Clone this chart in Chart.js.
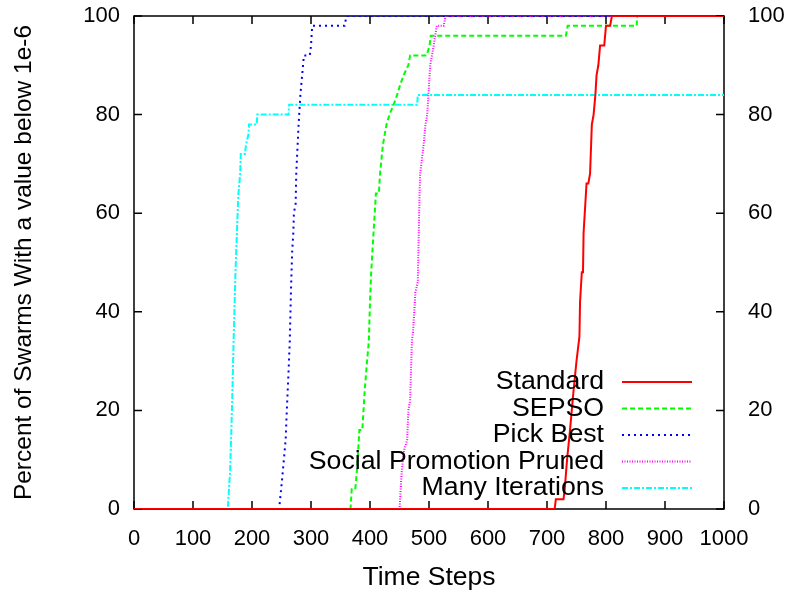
<!DOCTYPE html>
<html>
<head>
<meta charset="utf-8">
<script src="https://cdn.jsdelivr.net/npm/chart.js@4"></script>
<style>
  html, body { margin: 0; padding: 0; background: #fff; }
  #c { display: block; }
</style>
</head>
<body>
<canvas id="c" width="794" height="594"></canvas>
<script>
// series: time step -> percent of swarms below 1e-6
const standardX = [0, 713, 715, 728, 730, 734, 739, 745, 750, 755, 756, 759, 761, 762, 765, 767, 770, 773, 776, 779, 782, 784, 787, 790, 797, 800, 807, 810, 1000];
const standardY = [0, 0, 2, 2, 4, 10, 16, 24, 30, 35, 42, 48, 48, 56, 62, 66, 66, 68, 78, 80, 84, 88, 90, 94, 94, 98, 98, 100, 100];

const sepsoX = [0, 367, 369, 375, 378, 382, 387, 391, 395, 398, 400, 402, 405, 407, 410, 415, 417, 422, 428, 433, 440, 446, 451, 457, 465, 468, 496, 501, 503, 732, 735, 852, 853, 1000];
const sepsoY = [0, 0, 4, 4, 8, 16, 16, 24, 30, 34, 42, 48, 54, 58, 64, 64, 68, 74, 78, 80, 82, 84, 86, 88, 90, 92, 92, 94, 96, 96, 98, 98, 100, 100];

const pickBestX = [0, 246, 251, 254, 257, 259, 262, 264, 266, 268, 270, 271, 274, 275, 279, 282, 285, 288, 298, 300, 302, 357, 360, 1000];
const pickBestY = [0, 0, 6, 10, 14, 20, 28, 34, 44, 52, 56, 60, 62, 68, 78, 84, 88, 92, 92, 94, 98, 98, 100, 100];

const socialX = [0, 450, 452, 454, 458, 463, 465, 468, 471, 473, 477, 481, 482, 483, 484, 485, 491, 494, 497, 499, 502, 508, 513, 525, 528, 1000];
const socialY = [0, 0, 4, 8, 12, 14, 20, 22, 34, 36, 44, 46, 52, 58, 64, 68, 74, 78, 80, 84, 90, 94, 98, 98, 100, 100];

const manyX = [0, 159, 163, 166, 169, 172, 175, 177, 180, 181, 188, 190, 194, 195, 208, 209, 262, 263, 480, 481, 1000];
const manyY = [0, 0, 8, 20, 35, 48, 58, 64, 68, 72, 72, 74, 76, 78, 78, 80, 80, 82, 82, 84, 84];

const seriesNames = ['Standard', 'SEPSO', 'Pick Best', 'Social Promotion Pruned', 'Many Iterations'];
const xTicks = [0, 100, 200, 300, 400, 500, 600, 700, 800, 900, 1000];
const yTicks = [0, 20, 40, 60, 80, 100];

const FONT = 'Liberation Sans';
const pts = (xs, ys) => xs.map((x, i) => ({ x, y: ys[i] }));

// gnuplot-like frame with inward ticks on all four sides
const framePlugin = {
  id: 'frame',
  beforeDatasetsDraw(chart) {
    const { ctx, chartArea: a, scales } = chart;
    ctx.save();
    ctx.strokeStyle = '#000';
    ctx.lineWidth = 1.5;
    ctx.strokeRect(a.left, a.top, a.right - a.left, a.bottom - a.top);
    ctx.beginPath();
    xTicks.forEach(v => {
      const px = scales.x.getPixelForValue(v);
      ctx.moveTo(px, a.bottom); ctx.lineTo(px, a.bottom - 8);
      ctx.moveTo(px, a.top); ctx.lineTo(px, a.top + 8);
    });
    yTicks.forEach(v => {
      const py = scales.y.getPixelForValue(v);
      ctx.moveTo(a.left, py); ctx.lineTo(a.left + 8, py);
      ctx.moveTo(a.right, py); ctx.lineTo(a.right - 8, py);
    });
    ctx.stroke();
    ctx.restore();
  }
};

// legend inside bottom right: right-aligned text, line sample after it
const keyPlugin = {
  id: 'key',
  afterDatasetsDraw(chart) {
    const { ctx } = chart;
    ctx.save();
    ctx.font = '26.7px "' + FONT + '"';
    ctx.textAlign = 'right';
    ctx.textBaseline = 'middle';
    chart.data.datasets.forEach((ds, i) => {
      const y = 382 + i * 26.5;
      ctx.fillStyle = '#000';
      ctx.fillText(ds.label, 604, y);
      ctx.strokeStyle = ds.borderColor;
      ctx.lineWidth = ds.borderWidth;
      ctx.setLineDash(ds.borderDash || []);
      ctx.beginPath();
      ctx.moveTo(622, y); ctx.lineTo(692, y);
      ctx.stroke();
    });
    ctx.restore();
  }
};

const tickFont = { family: FONT, size: 22 };
const noPadY = s => { s.paddingTop = 0; s.paddingBottom = 0; };

new Chart(document.getElementById('c'), {
  type: 'line',
  data: {
    datasets: [
      { label: seriesNames[0], data: pts(standardX, standardY), borderColor: '#ff0000', borderWidth: 2 },
      { label: seriesNames[1], data: pts(sepsoX, sepsoY), borderColor: '#00ff00', borderWidth: 2, borderDash: [5, 3] },
      { label: seriesNames[2], data: pts(pickBestX, pickBestY), borderColor: '#0000ff', borderWidth: 2, borderDash: [2, 4] },
      { label: seriesNames[3], data: pts(socialX, socialY), borderColor: '#ff00ff', borderWidth: 2, borderDash: [1, 1.5] },
      { label: seriesNames[4], data: pts(manyX, manyY), borderColor: '#00ffff', borderWidth: 2, borderDash: [6, 2, 2, 2] }
    ].map(d => Object.assign(d, { pointRadius: 0, fill: false, tension: 0 }))
  },
  options: {
    responsive: false,
    animation: false,
    devicePixelRatio: 1,
    layout: { padding: { top: 16, left: 0, right: 0, bottom: 0 } },
    plugins: { legend: { display: false }, tooltip: { enabled: false } },
    scales: {
      x: {
        type: 'linear', min: 0, max: 1000,
        afterBuildTicks: s => { s.ticks = xTicks.map(v => ({ value: v })); },
        afterFit: s => { s.height = 85; s.paddingLeft = 0; s.paddingRight = 0; },
        grid: { display: false, drawTicks: false },
        border: { display: false },
        ticks: { color: '#000', font: tickFont, padding: 17, maxRotation: 0, callback: v => String(v) },
        title: { display: true, text: 'Time Steps', color: '#000', font: { family: FONT, size: 26.5 }, padding: { top: 0, bottom: 0 } }
      },
      y: {
        min: 0, max: 100,
        afterBuildTicks: s => { s.ticks = yTicks.map(v => ({ value: v })); },
        afterFit: s => { s.width = 134; noPadY(s); },
        grid: { display: false, drawTicks: false },
        border: { display: false },
        ticks: { color: '#000', font: tickFont, padding: 14 },
        title: { display: true, text: 'Percent of Swarms With a value below 1e-6', color: '#000', font: { family: FONT, size: 24.5 }, padding: 10 }
      },
      y2: {
        position: 'right', min: 0, max: 100,
        afterBuildTicks: s => { s.ticks = yTicks.map(v => ({ value: v })); },
        afterFit: s => { s.width = 70; noPadY(s); },
        grid: { display: false, drawTicks: false },
        border: { display: false },
        ticks: { color: '#000', font: tickFont, padding: 24 }
      }
    }
  },
  plugins: [framePlugin, keyPlugin]
});
</script>
</body>
</html>
